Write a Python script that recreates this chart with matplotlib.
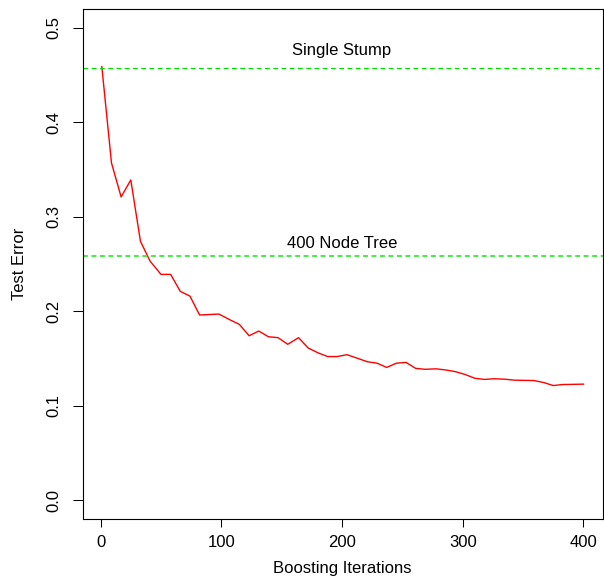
#!/usr/bin/env python3
"""Boosting test error vs. iterations, against single stump and 400-node tree."""

import matplotlib
matplotlib.use("Agg")
import matplotlib.pyplot as plt

plt.rcParams["font.family"] = ["Liberation Sans", "DejaVu Sans"]

# boosting curve
iterations = [1, 9, 17, 25, 33, 41, 50, 58, 66, 74,
              82, 90, 98, 107, 115, 123, 131, 139, 147, 155,
              164, 172, 180, 188, 196, 204, 212, 221, 229, 237,
              245, 253, 261, 269, 278, 286, 294, 302, 310, 318,
              326, 335, 343, 351, 359, 367, 375, 383, 392, 400]
test_error = [0.459, 0.357, 0.321, 0.339, 0.274, 0.253, 0.239, 0.239, 0.221, 0.216,
              0.196, 0.1965, 0.197, 0.191, 0.186, 0.174, 0.179, 0.173, 0.172, 0.165,
              0.172, 0.161, 0.156, 0.152, 0.152, 0.154, 0.1505, 0.1465, 0.145, 0.1405,
              0.145, 0.1458, 0.1395, 0.1385, 0.139, 0.1378, 0.136, 0.133, 0.129, 0.1278,
              0.1285, 0.128, 0.127, 0.1268, 0.1266, 0.1245, 0.1213, 0.1224, 0.1226, 0.1228]

stump_error = 0.458
tree_error  = 0.258
ref_labels  = ["Single Stump", "400 Node Tree"]

x_ticks = [0, 100, 200, 300, 400]
y_ticks = [0.0, 0.1, 0.2, 0.3, 0.4, 0.5]

fig = plt.figure(figsize=(6.04, 5.79), dpi=100)
ax = fig.add_axes([0.1366, 0.1036, 0.8614, 0.8809])

ax.plot(iterations, test_error, color="#FF0000", lw=1.0)
ax.axhline(stump_error, color="#00E000", lw=0.9, dashes=(3.8, 2.8))
ax.axhline(tree_error, color="#33EE33", lw=1.3, dashes=(2.7, 2.0))

ax.text(200, stump_error + 0.013, ref_labels[0], ha="center", va="baseline", fontsize=12)
ax.text(200, tree_error + 0.009, ref_labels[1], ha="center", va="baseline", fontsize=12)

ax.set_xlim(-15, 416)
ax.set_ylim(-0.02, 0.52)
ax.set_xticks(x_ticks)
ax.set_xticklabels([str(t) for t in x_ticks])
ax.set_yticks(y_ticks)
ax.set_yticklabels([f"{t:.1f}" for t in y_ticks], rotation=90, va="center")

ax.tick_params(axis="x", length=5.5, width=0.75, pad=6, labelsize=12)
ax.tick_params(axis="y", length=7, width=0.75, pad=8, labelsize=12)
for s in ax.spines.values():
    s.set_linewidth(0.8)

ax.set_xlabel("Boosting Iterations", fontsize=12, labelpad=8)
ax.set_ylabel("Test Error", fontsize=12, labelpad=14)

fig.savefig("out.png", dpi=100)
